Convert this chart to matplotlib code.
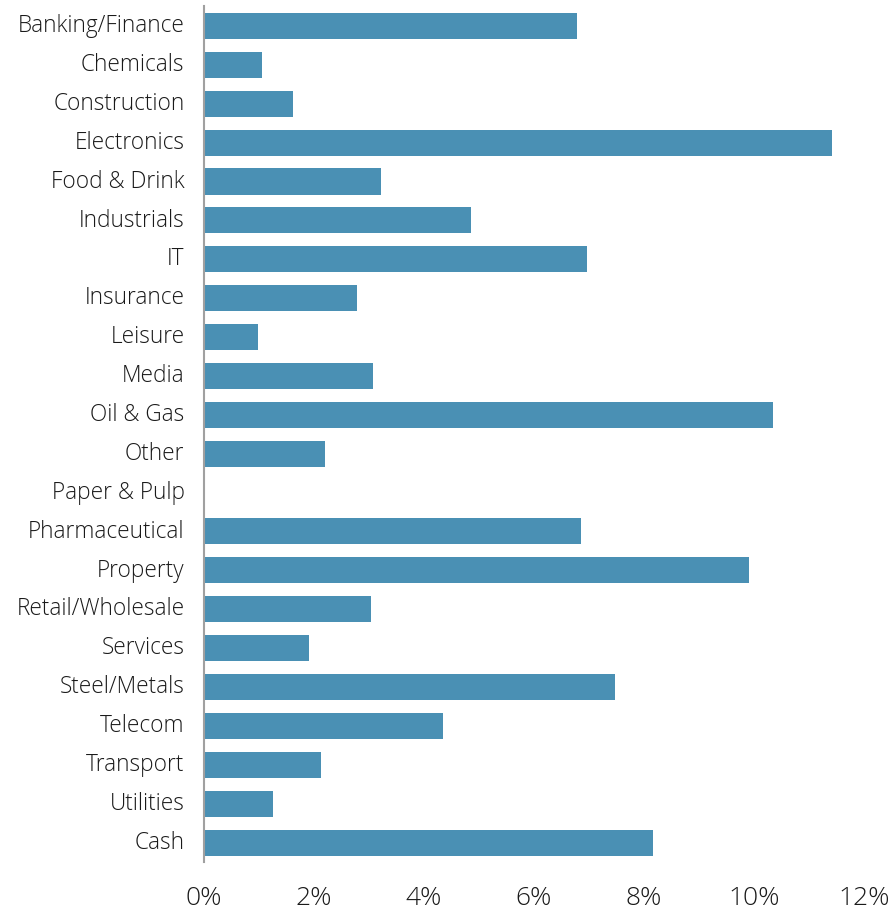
import matplotlib.pyplot as plt
import matplotlib.transforms as mtransforms
from matplotlib.ticker import FuncFormatter

plt.rcParams['font.family'] = ['Open Sans', 'DejaVu Sans']
plt.rcParams['font.weight'] = 'light'

# sector weights (%)
sectors = ['Banking/Finance', 'Chemicals', 'Construction', 'Electronics',
           'Food & Drink', 'Industrials', 'IT', 'Insurance', 'Leisure',
           'Media', 'Oil & Gas', 'Other', 'Paper & Pulp', 'Pharmaceutical',
           'Property', 'Retail/Wholesale', 'Services', 'Steel/Metals',
           'Telecom', 'Transport', 'Utilities', 'Cash']
weights = [6.78, 1.05, 1.62, 11.42, 3.22, 4.85, 6.96, 2.78, 0.98, 3.07,
           10.35, 2.2, 0.0, 6.85, 9.91, 3.04, 1.91, 7.47, 4.35, 2.13,
           1.25, 8.16]
xticks = [0, 2, 4, 6, 8, 10, 12]

fig = plt.figure(figsize=(8.94, 9.14), dpi=100)
ax = fig.add_axes([0.2282, 0.0569, 0.7383, 0.936])

pos = list(range(len(sectors)))
ax.barh(pos, weights, height=0.67, color='#4a90b4')
ax.set_ylim(len(sectors) - 0.5, -0.5)
ax.set_xlim(0, 12)
ax.set_yticks(pos)
ax.set_yticklabels(sectors)
ax.set_xticks(xticks)
ax.xaxis.set_major_formatter(FuncFormatter(lambda v, p: '%d%%' % v))

for s in ['top', 'right', 'bottom']:
    ax.spines[s].set_visible(False)
ax.spines['left'].set_color('#a0a0a0')
ax.spines['left'].set_linewidth(1.5)

ax.tick_params(axis='y', length=0, pad=14, labelsize=16.3, labelcolor='#1a1a1a')
ax.tick_params(axis='x', length=0, pad=17, labelsize=19, labelcolor='#1a1a1a')
# nudge category labels up a little
shift = mtransforms.ScaledTranslation(0, 2 / 72, fig.dpi_scale_trans)
for lbl in ax.get_yticklabels():
    lbl.set_va('center_baseline')
    lbl.set_transform(lbl.get_transform() + shift)

fig.savefig('out.png', dpi=100)
